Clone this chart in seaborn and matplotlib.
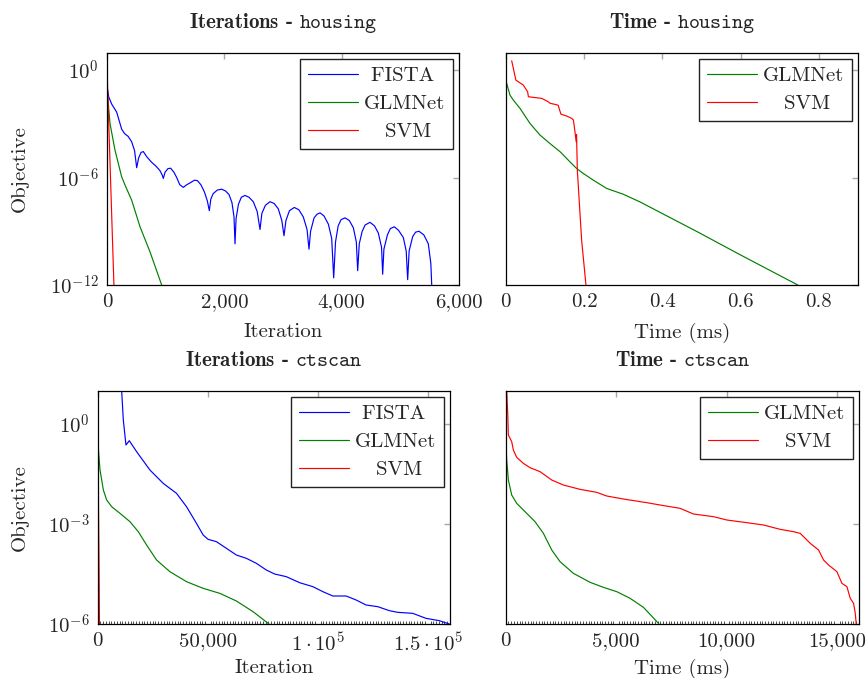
import numpy as np
import pandas as pd
import matplotlib
matplotlib.use('Agg')
import matplotlib.pyplot as plt
import seaborn as sns
from matplotlib.ticker import MultipleLocator, NullLocator

# ---- data (x, log10 objective) ----
# housing, iterations
h_fista_iter = [0, 30, 80, 165, 250, 300, 360, 420, 470, 506, 540, 580, 619, 680, 761, 830, 900, 940, 960,
                990, 1040, 1085, 1140, 1188, 1240, 1301, 1360, 1415, 1490, 1540, 1600, 1660, 1710, 1744,
                1770, 1810, 1880, 1955, 2020, 2080, 2130, 2165, 2182, 2200, 2240, 2290, 2352, 2420, 2494,
                2560, 2608, 2640, 2700, 2778, 2850, 2920, 2980, 3017, 3050, 3110, 3193, 3270, 3346, 3410,
                3443, 3470, 3530, 3580, 3631, 3700, 3773, 3830, 3864, 3895, 3940, 3990, 4057, 4130, 4199,
                4250, 4273, 4300, 4350, 4400, 4483, 4560, 4625, 4680, 4699, 4720, 4780, 4830, 4898, 4970,
                5051, 5100, 5125, 5150, 5210, 5260, 5318, 5400, 5477, 5520, 5545]
h_fista_logobj = [-0.9, -1.5, -1.9, -2.35, -3.3, -3.55, -3.7, -4.0, -4.5, -5.45, -4.9, -4.6, -4.55, -4.85,
                  -5.15, -5.35, -5.6, -5.85, -6.05, -5.7, -5.5, -5.48, -5.7, -6.0, -6.4, -6.55, -6.4, -6.3,
                  -6.15, -6.17, -6.4, -6.8, -7.3, -7.85, -7.2, -6.9, -6.7, -6.65, -6.75, -6.95, -7.4, -8.2,
                  -9.7, -8.3, -7.5, -7.1, -7.0, -7.1, -7.35, -7.9, -8.9, -8.0, -7.55, -7.35, -7.45, -7.75,
                  -8.4, -9.25, -8.4, -7.85, -7.67, -7.8, -8.2, -8.9, -10.0, -9.0, -8.25, -8.05, -7.97, -8.15,
                  -8.6, -9.4, -11.6, -9.6, -8.7, -8.35, -8.25, -8.4, -8.8, -9.6, -11.2, -9.7, -9.0, -8.65,
                  -8.5, -8.7, -9.1, -9.9, -11.4, -10.0, -9.2, -8.85, -8.75, -8.95, -9.35, -10.1, -11.7, -10.1,
                  -9.3, -9.05, -9.0, -9.2, -9.7, -10.8, -12.8]
h_glm_iter = [0, 20, 51, 136, 250, 307, 420, 563, 733, 932, 960]
h_glm_logobj = [-1.0, -1.8, -2.98, -4.47, -5.96, -6.42, -7.26, -8.75, -10.15, -12.0, -12.5]
h_svm_iter = [0, 10, 40, 120, 125]
h_svm_logobj = [0.6, -1.0, -4.0, -12.2, -12.5]

# housing, time (ms)
h_glm_time = [0, 0.011, 0.0196, 0.0366, 0.0621, 0.0877, 0.113, 0.139, 0.164, 0.181, 0.198, 0.224, 0.258,
              0.30, 0.343, 0.40, 0.488, 0.598, 0.747, 0.76]
h_glm_time_logobj = [-0.56, -1.40, -1.68, -2.14, -2.98, -3.63, -4.10, -4.56, -5.12, -5.49, -5.77, -6.15,
                     -6.61, -6.93, -7.36, -8.01, -9.01, -10.3, -12.01, -12.3]
h_svm_time = [0.0153, 0.026, 0.045, 0.056, 0.058, 0.092, 0.109, 0.113, 0.134, 0.141, 0.156, 0.169, 0.173,
              0.177, 0.18, 0.181, 0.183, 0.194, 0.205, 0.207]
h_svm_time_logobj = [0.52, -0.56, -0.84, -1.21, -1.49, -1.58, -1.77, -1.85, -1.96, -2.46, -2.57, -2.7,
                     -2.79, -3.45, -4.0, -3.6, -5.59, -9.5, -12.0, -12.4]

# ctscan, iterations
c_fista_iter = [10000, 10877, 11631, 12840, 14350, 17674, 23716, 29758, 35800, 40332, 44864, 47885, 50151,
                53927, 58459, 62991, 67523, 72054, 76586, 80363, 85650, 91692, 97734, 102266, 106798,
                112840, 117372, 121903, 127190, 132477, 136254, 143051, 149094, 155136, 159668]
c_fista_logobj = [1.6, 1.0, 0.12, -0.63, -0.5, -0.83, -1.38, -1.78, -2.08, -2.48, -2.98, -3.33, -3.46,
                  -3.53, -3.73, -3.93, -4.03, -4.18, -4.38, -4.5, -4.58, -4.76, -4.88, -5.03, -5.16, -5.16,
                  -5.28, -5.43, -5.48, -5.6, -5.65, -5.68, -5.83, -5.9, -6.0]
c_glm_iter = [0, 453, 1057, 2568, 4079, 6344, 10121, 14653, 18429, 22205, 26737, 32779, 40332, 47885,
              55438, 62991, 70544, 77795, 79000]
c_glm_logobj = [-0.38, -0.88, -1.38, -1.98, -2.28, -2.48, -2.68, -2.93, -3.23, -3.63, -4.08, -4.43, -4.73,
                -4.93, -5.08, -5.31, -5.63, -6.0, -6.1]
c_svm_iter = [250, 350, 500, 650, 800, 950]
c_svm_logobj = [-0.3, -2.4, -3.5, -4.6, -6.0, -6.5]

# ctscan, time (ms)
c_glm_time = [0, 45, 121, 272, 498, 952, 1329, 1707, 2085, 2462, 3066, 3822, 4426, 5030, 5634, 6239, 6918,
              7000]
c_glm_time_logobj = [-0.38, -1.08, -1.68, -2.13, -2.38, -2.68, -2.93, -3.28, -3.78, -4.13, -4.48, -4.75,
                     -4.9, -5.03, -5.23, -5.5, -5.98, -6.1]
c_svm_time = [45, 91, 121, 272, 347, 498, 800, 1103, 1556, 2085, 2613, 3369, 4124, 4577, 5332, 6390, 6994,
              7900, 8505, 9411, 10015, 10921, 11677, 12432, 13036, 13338, 13792, 14169, 14396, 14622, 15000,
              15227, 15453, 15604, 15755, 15831, 15876, 15880]
c_svm_time_logobj = [0.97, 0.32, -0.33, -0.53, -0.78, -1.0, -1.18, -1.31, -1.43, -1.68, -1.83, -1.96,
                     -2.05, -2.16, -2.25, -2.36, -2.43, -2.53, -2.7, -2.78, -2.88, -2.96, -3.03, -3.16,
                     -3.23, -3.28, -3.58, -3.78, -4.08, -4.23, -4.43, -4.78, -4.88, -5.23, -5.38, -5.68,
                     -6.0, -6.2]

# ticks
h_iter_ticks = [0, 2000, 4000, 6000]
h_iter_labels = ["0", "2,000", "4,000", "6,000"]
h_time_ticks = [0, 0.2, 0.4, 0.6, 0.8]
h_time_labels = ["0", "0.2", "0.4", "0.6", "0.8"]
c_iter_ticks = [0, 50000, 100000, 150000]
c_iter_labels = ["0", "50,000", r"$1\cdot 10^{5}$", r"$1.5\cdot 10^{5}$"]
c_time_ticks = [0, 5000, 10000, 15000]
c_time_labels = ["0", "5,000", "10,000", "15,000"]
h_yticks = [1e0, 1e-6, 1e-12]
h_ylabels = [r"$10^{0}$", r"$10^{-6}$", r"$10^{-12}$"]
c_yticks = [1e0, 1e-3, 1e-6]
c_ylabels = [r"$10^{0}$", r"$10^{-3}$", r"$10^{-6}$"]

colors = {"FISTA": "#0000ff", "GLMNet": "#008000", "SVM": "#ff0000"}
# leading spaces roughly centre the legend entries like pgfplots does
legend_pad = {"FISTA": " FISTA", "GLMNet": "GLMNet", "SVM": "   SVM"}

sns.set_style("white")
plt.rcParams['font.family'] = ['cmr10', 'DejaVu Serif']
plt.rcParams['mathtext.fontset'] = 'cm'
plt.rcParams['axes.unicode_minus'] = False
plt.rcParams['font.size'] = 15

W, H = 867, 678
fig = plt.figure(figsize=(W / 100, H / 100), dpi=100)


def make_ax(l, t, r, b):
    return fig.add_axes([l / W, 1 - b / H, (r - l) / W, (b - t) / H])


def draw_panel(ax, series, xlim, ylim, xticks, xlabels, yticks, ylabels, title, xlabel, ylab_x, xlab_y):
    for name, xs, ly in series:
        df = pd.DataFrame({"x": xs, "y": 10 ** np.array(ly)})
        sns.lineplot(data=df, x="x", y="y", ax=ax, color=colors[name], lw=0.85,
                     estimator=None, sort=False, label=legend_pad[name])
    ax.set_yscale('log')
    ax.set_xlim(*xlim)
    ax.set_ylim(*ylim)
    ax.set_xticks(xticks, xlabels)
    ax.set_yticks(yticks, ylabels if ylab_x is not None else [])
    ax.yaxis.set_minor_locator(NullLocator())
    ax.tick_params(which='major', direction='in', top=True, right=True, length=4.5, width=1.0,
                   color='#a8a8a8', pad=6, labelsize=15)
    for s in ax.spines.values():
        s.set_color('black')
        s.set_linewidth(0.9)
    ax.set_xlabel(xlabel)
    ax.xaxis.set_label_coords(0.5, xlab_y)
    if ylab_x is not None:
        ax.set_ylabel("Objective")
        ax.yaxis.set_label_coords(ylab_x, 0.5)
    else:
        ax.set_ylabel("")
    ax.set_title(title, fontfamily='cmb10', pad=18, fontsize=15)
    leg = ax.legend(loc='upper right', frameon=True, fancybox=False, framealpha=1, edgecolor='#222222',
                    handlelength=2.4, handletextpad=0.3, labelspacing=0.45, borderpad=0.38,
                    borderaxespad=0.28, fontsize=15)
    leg.get_frame().set_linewidth(1.0)


ax1 = make_ax(107, 52.7, 459, 285)
draw_panel(ax1, [("FISTA", h_fista_iter, h_fista_logobj), ("GLMNet", h_glm_iter, h_glm_logobj),
                 ("SVM", h_svm_iter, h_svm_logobj)],
           (0, 6000), (1e-12, 10 ** 0.97), h_iter_ticks, h_iter_labels, h_yticks, h_ylabels,
           r"Iterations - $\mathtt{housing}$", "Iteration", -0.222, -0.165)

ax2 = make_ax(505.7, 52.7, 858, 285)
draw_panel(ax2, [("GLMNet", h_glm_time, h_glm_time_logobj), ("SVM", h_svm_time, h_svm_time_logobj)],
           (0, 0.9), (1e-12, 10 ** 0.97), h_time_ticks, h_time_labels, h_yticks, h_ylabels,
           r"Time - $\mathtt{housing}$", "Time (ms)", None, -0.165)

ax3 = make_ax(97.7, 390.7, 450, 624)
draw_panel(ax3, [("FISTA", c_fista_iter, c_fista_logobj), ("GLMNet", c_glm_iter, c_glm_logobj),
                 ("SVM", c_svm_iter, c_svm_logobj)],
           (0, 160000), (1e-6, 10 ** 1.0), c_iter_ticks, c_iter_labels, c_yticks, c_ylabels,
           r"Iterations - $\mathtt{ctscan}$", "Iteration", -0.195, -0.15)
ax3.xaxis.set_minor_locator(MultipleLocator(1250))

ax4 = make_ax(505.7, 390.7, 859, 624)
draw_panel(ax4, [("GLMNet", c_glm_time, c_glm_time_logobj), ("SVM", c_svm_time, c_svm_time_logobj)],
           (0, 16000), (1e-6, 10 ** 1.0), c_time_ticks, c_time_labels, c_yticks, c_ylabels,
           r"Time - $\mathtt{ctscan}$", "Time (ms)", None, -0.15)
ax4.xaxis.set_minor_locator(MultipleLocator(125))

for ax in (ax3, ax4):
    ax.tick_params(which='minor', axis='x', direction='in', bottom=True, top=False, length=2.2,
                   width=0.6, color='#333333')

fig.savefig("out.png", dpi=100)
